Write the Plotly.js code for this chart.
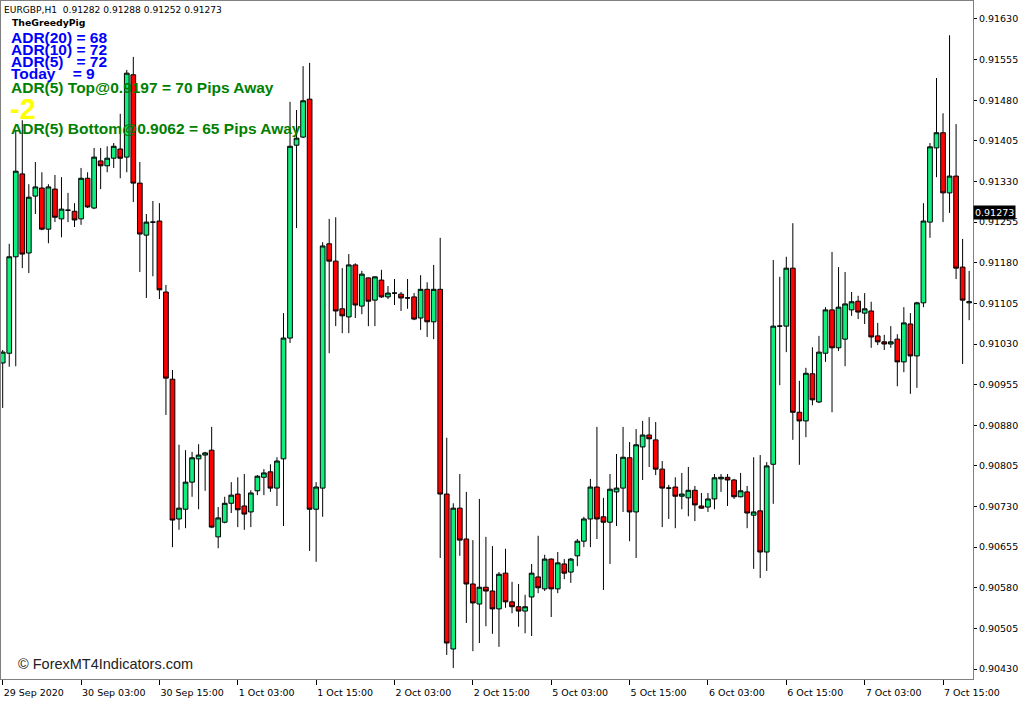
<!DOCTYPE html>
<html>
<head>
<meta charset="utf-8">
<script src="https://cdn.plot.ly/plotly-3.0.1.min.js"></script>
<style>
  html, body { margin: 0; padding: 0; background: #fff; }
  #chart { width: 1024px; height: 705px; }
</style>
</head>
<body>
<div id="chart"></div>
<script>
// EURGBP H1 bars (oldest -> newest)
const barOpen = [
  0.90995,0.91013,0.91191,0.91344,0.91198,0.91303,0.91318,0.91242,0.91316,0.91261,
  0.91277,0.91275,0.91261,0.91336,0.91281,0.91368,0.91359,0.91373,0.91390,0.91375,
  0.91527,0.91327,0.91231,0.91255,0.91257,0.91126,0.90965,0.90707,0.90725,0.90775,
  0.90818,0.90825,0.90834,0.90674,0.90701,0.90736,0.90753,0.90731,0.90720,0.90759,
  0.90784,0.90794,0.90764,0.90818,0.91041,0.91397,0.91412,0.91482,0.90725,0.90764,
  0.91215,0.91183,0.91095,0.91080,0.91176,0.91100,0.91152,0.91111,0.91148,0.91117,
  0.91124,0.91122,0.91115,0.91117,0.91078,0.91131,0.91071,0.91131,0.90753,0.90467,
  0.90727,0.90670,0.90587,0.90550,0.90581,0.90574,0.90541,0.90607,0.90554,0.90545,
  0.90537,0.90563,0.90600,0.90578,0.90633,0.90578,0.90624,0.90609,0.90639,0.90666,
  0.90707,0.90766,0.90711,0.90701,0.90757,0.90764,0.90820,0.90720,0.90840,0.90862,
  0.90853,0.90799,0.90764,0.90766,0.90749,0.90746,0.90760,0.90731,0.90729,0.90744,
  0.90781,0.90784,0.90779,0.90748,0.90757,0.90714,0.90722,0.90646,0.90808,0.91063,
  0.91063,0.91170,0.90904,0.90888,0.90975,0.90923,0.91013,0.91093,0.91023,0.91039,
  0.91093,0.91109,0.91087,0.91091,0.91045,0.91034,0.91030,0.91039,0.90997,0.91067,
  0.91008,0.91106,0.91255,0.91392,0.91420,0.91309,0.91340,0.91172,0.91106
];
const barHigh = [
  0.91019,0.91215,0.91425,0.91443,0.91325,0.91366,0.91347,0.91325,0.91342,0.91338,
  0.91309,0.91290,0.91355,0.91347,0.91392,0.91392,0.91395,0.91401,0.91455,0.91536,
  0.91560,0.91366,0.91270,0.91294,0.91290,0.91139,0.90982,0.90844,0.90834,0.90831,
  0.90845,0.90831,0.90877,0.90729,0.90748,0.90775,0.90784,0.90790,0.90760,0.90788,
  0.90799,0.90808,0.90821,0.91087,0.91477,0.91462,0.91543,0.91549,0.90775,0.91218,
  0.91261,0.91264,0.91170,0.91196,0.91179,0.91165,0.91153,0.91155,0.91167,0.91137,
  0.91150,0.91126,0.91150,0.91124,0.91157,0.91144,0.91176,0.91226,0.90857,0.90736,
  0.90790,0.90757,0.90668,0.90744,0.90674,0.90657,0.90609,0.90652,0.90591,0.90587,
  0.90567,0.90624,0.90676,0.90641,0.90634,0.90646,0.90633,0.90635,0.90670,0.90711,
  0.90781,0.90877,0.90746,0.90790,0.90827,0.90877,0.90849,0.90873,0.90888,0.90895,
  0.90886,0.90814,0.90770,0.90784,0.90792,0.90803,0.90768,0.90755,0.90755,0.90790,
  0.90790,0.90790,0.90781,0.90792,0.90768,0.90821,0.90825,0.90812,0.91185,0.91154,
  0.91191,0.91253,0.90962,0.90986,0.91024,0.91045,0.91098,0.91200,0.91172,0.91163,
  0.91126,0.91119,0.91124,0.91108,0.91069,0.91047,0.91063,0.91048,0.91098,0.91087,
  0.91108,0.91290,0.91401,0.91521,0.91456,0.91600,0.91436,0.91224,0.91165
];
const barLow = [
  0.90912,0.90988,0.90989,0.91170,0.91161,0.91270,0.91240,0.91216,0.91255,0.91227,
  0.91255,0.91246,0.91250,0.91281,0.91279,0.91316,0.91347,0.91355,0.91336,0.91347,
  0.91292,0.91163,0.91115,0.91155,0.91113,0.90899,0.90655,0.90687,0.90690,0.90748,
  0.90725,0.90759,0.90690,0.90653,0.90699,0.90718,0.90692,0.90687,0.90692,0.90751,
  0.90751,0.90757,0.90731,0.90694,0.91032,0.91244,0.91410,0.90648,0.90628,0.90711,
  0.91013,0.91063,0.91050,0.91050,0.91078,0.91085,0.91063,0.91063,0.91115,0.91113,
  0.91102,0.91091,0.91095,0.91074,0.91056,0.91043,0.91039,0.90635,0.90456,0.90432,
  0.90639,0.90515,0.90463,0.90478,0.90509,0.90495,0.90471,0.90543,0.90533,0.90508,
  0.90496,0.90491,0.90570,0.90574,0.90526,0.90570,0.90596,0.90589,0.90620,0.90655,
  0.90655,0.90670,0.90576,0.90624,0.90694,0.90720,0.90666,0.90635,0.90779,0.90803,
  0.90788,0.90692,0.90707,0.90690,0.90725,0.90712,0.90703,0.90726,0.90720,0.90725,
  0.90757,0.90731,0.90744,0.90747,0.90690,0.90615,0.90598,0.90611,0.90735,0.90954,
  0.91015,0.90853,0.90807,0.90858,0.90917,0.90921,0.90997,0.90904,0.91017,0.90989,
  0.91082,0.91076,0.91067,0.91023,0.91028,0.91019,0.91023,0.90952,0.90978,0.90938,
  0.90949,0.91098,0.91226,0.91338,0.91255,0.91272,0.91150,0.90993,0.91074
];
const barClose = [
  0.91015,0.91191,0.91349,0.91196,0.91301,0.91320,0.91242,0.91320,0.91264,0.91279,
  0.91277,0.91259,0.91336,0.91283,0.91375,0.91359,0.91373,0.91395,0.91373,0.91530,
  0.91327,0.91233,0.91255,0.91255,0.91130,0.90967,0.90705,0.90727,0.90775,0.90820,
  0.90825,0.90829,0.90692,0.90709,0.90736,0.90751,0.90724,0.90716,0.90755,0.90786,
  0.90792,0.90764,0.90814,0.91041,0.91395,0.91410,0.91479,0.90725,0.90766,0.91211,
  0.91183,0.91091,0.91082,0.91176,0.91102,0.91159,0.91109,0.91154,0.91117,0.91124,
  0.91124,0.91115,0.91115,0.91076,0.91131,0.91071,0.91131,0.90753,0.90478,0.90727,
  0.90668,0.90587,0.90552,0.90581,0.90574,0.90541,0.90605,0.90554,0.90545,0.90537,
  0.90545,0.90607,0.90580,0.90633,0.90578,0.90626,0.90607,0.90633,0.90666,0.90707,
  0.90766,0.90707,0.90701,0.90762,0.90764,0.90821,0.90720,0.90844,0.90862,0.90855,
  0.90799,0.90764,0.90764,0.90749,0.90753,0.90760,0.90733,0.90727,0.90744,0.90783,
  0.90784,0.90779,0.90748,0.90759,0.90718,0.90720,0.90646,0.90805,0.91063,0.91063,
  0.91170,0.90904,0.90888,0.90976,0.90927,0.91015,0.91093,0.91023,0.91098,0.91104,
  0.91108,0.91089,0.91095,0.91043,0.91034,0.91030,0.91034,0.90997,0.91069,0.91008,
  0.91106,0.91257,0.91394,0.91420,0.91309,0.91340,0.91170,0.91111,0.91108
];

// Time-axis labels, one every 12 bars
const timeLabels = [
  '29 Sep 2020','30 Sep 03:00','30 Sep 15:00','1 Oct 03:00','1 Oct 15:00',
  '2 Oct 03:00','2 Oct 15:00','5 Oct 03:00','5 Oct 15:00','6 Oct 03:00',
  '6 Oct 15:00','7 Oct 03:00','7 Oct 15:00'
];
const labelEvery = 12;

// Price-axis labels
const priceTicks = [
  0.91630,0.91555,0.91480,0.91405,0.91330,0.91255,0.91180,0.91105,0.91030,
  0.90955,0.90880,0.90805,0.90730,0.90655,0.90580,0.90505,0.90430
];

// Header / indicator texts
const symbolInfo = 'EURGBP,H1  0.91282 0.91288 0.91252 0.91273';
const indicatorName = 'TheGreedyPig';
const adrLines = ['ADR(20) = 68', 'ADR(10) = 72', 'ADR(5)\u00A0\u00A0\u00A0= 72', 'Today\u00A0\u00A0\u00A0\u00A0= 9'];
const topLine = 'ADR(5) Top@0.9197 = 70 Pips Away';
const signalValue = '-2';
const bottomLine = 'ADR(5) Bottom@0.9062 = 65 Pips Away';
const lastPrice = 0.91273;
const watermark = '\u00A9 ForexMT4Indicators.com';

const xIdx = barOpen.map((_, i) => i);
const tickIdx = timeLabels.map((_, k) => k * labelEvery);

const axisFont = { family: 'DejaVu Sans, sans-serif', size: 9.5, color: '#000' };
const boldFont = (size, color) => ({ family: 'Liberation Sans, Arial, sans-serif', size: size, color: color });

// pixel helpers for overlay text (plot area: x 1..973, y 1..679)
const px = x => (x - 1) / 972;
const py = y => (679 - y) / 678;

const trace = {
  type: 'candlestick',
  x: xIdx,
  open: barOpen, high: barHigh, low: barLow, close: barClose,
  increasing: { line: { color: '#000000', width: 1 }, fillcolor: '#10EE80' },
  decreasing: { line: { color: '#000000', width: 1 }, fillcolor: '#FF0000' },
  whiskerwidth: 0,
  hoverinfo: 'skip',
  showlegend: false
};

const annotations = [
  { text: symbolInfo, x: px(3), y: py(10), font: { family: 'DejaVu Sans, sans-serif', size: 9.1, color: '#000' } },
  { text: '<b>' + indicatorName + '</b>', x: px(11), y: py(22.5), font: { family: 'DejaVu Sans, sans-serif', size: 9.3, color: '#000' } },
  { text: '<b>' + adrLines[0] + '</b>', x: px(10), y: py(37.5), font: boldFont(15.5, '#0000FF') },
  { text: '<b>' + adrLines[1] + '</b>', x: px(10), y: py(49.5), font: boldFont(15.5, '#0000FF') },
  { text: '<b>' + adrLines[2] + '</b>', x: px(10), y: py(61.5), font: boldFont(15.5, '#0000FF') },
  { text: '<b>' + adrLines[3] + '</b>', x: px(10), y: py(73.5), font: boldFont(15.5, '#0000FF') },
  { text: '<b>' + topLine + '</b>', x: px(10), y: py(87), font: boldFont(15.5, '#008000') },
  { text: '<b>' + signalValue + '</b>', x: px(9), y: py(109), font: boldFont(29, '#FFFF00') },
  { text: '<b>' + bottomLine + '</b>', x: px(10), y: py(128), font: boldFont(15.5, '#008000') },
  { text: watermark, x: px(17), y: py(664), font: { family: 'Liberation Sans, Arial, sans-serif', size: 14.5, color: '#222' } }
].map(a => Object.assign({ xref: 'paper', yref: 'paper', xanchor: 'left', yanchor: 'middle', showarrow: false, borderpad: 0 }, a));

annotations.push({
  xref: 'paper', yref: 'y', x: 1, y: lastPrice, xanchor: 'left', yanchor: 'middle',
  text: lastPrice.toFixed(5), showarrow: false, bgcolor: '#000', borderpad: 1,
  font: { family: 'DejaVu Sans, sans-serif', size: 9.5, color: '#fff' }
});

const layout = {
  width: 1024, height: 705,
  margin: { l: 1, r: 51, t: 1, b: 26, pad: 0 },
  paper_bgcolor: '#fff', plot_bgcolor: '#fff',
  boxgap: 0.28, boxgroupgap: 0,
  showlegend: false,
  xaxis: {
    type: 'linear',
    range: [-0.26, 148.59],
    rangeslider: { visible: false },
    showgrid: false, zeroline: false,
    showline: true, mirror: true, linecolor: '#808080', linewidth: 1,
    ticks: 'outside', ticklen: 5, tickcolor: '#000',
    tickvals: tickIdx, ticktext: timeLabels,
    ticklabelposition: 'outside right',
    ticklabelstandoff: 5,
    tickfont: axisFont, fixedrange: true
  },
  yaxis: {
    side: 'right',
    range: [0.904116, 0.916632],
    showgrid: false, zeroline: false,
    showline: true, mirror: true, linecolor: '#808080', linewidth: 1,
    ticks: 'outside', ticklen: 3, tickcolor: '#000',
    tickvals: priceTicks, tickformat: '.5f',
    tickfont: axisFont, fixedrange: true
  },
  annotations: annotations
};

Plotly.newPlot('chart', [trace], layout, { displayModeBar: false, staticPlot: true });
</script>
</body>
</html>
